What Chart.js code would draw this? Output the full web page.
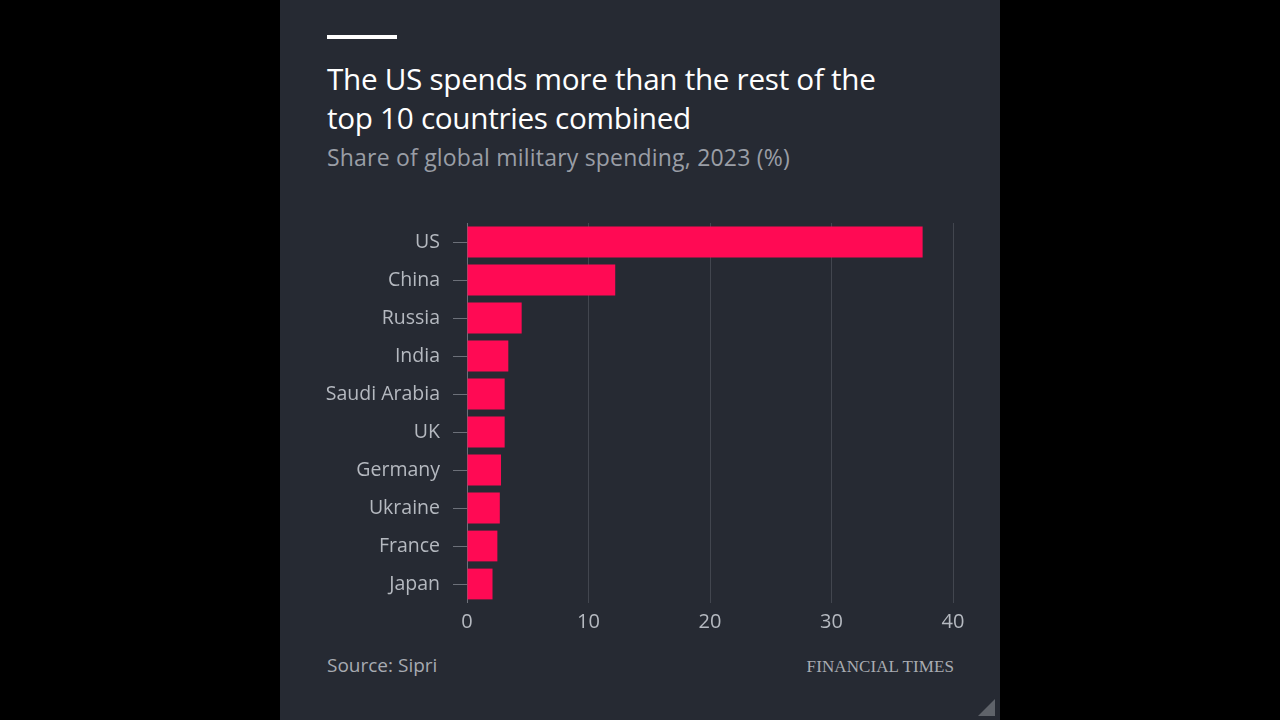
<!DOCTYPE html>
<html>
<head>
<meta charset="utf-8">
<script src="https://cdn.jsdelivr.net/npm/chart.js@4/dist/chart.umd.min.js"></script>
<style>
  html, body { margin: 0; padding: 0; background: #000; width: 1280px; height: 720px; overflow: hidden; }
  #panel { position: absolute; left: 280px; top: 0; width: 720px; height: 720px; background: #262a33; font-family: "Open Sans", "Noto Sans", sans-serif; }
  #rule { position: absolute; left: 47px; top: 35px; width: 70px; height: 4px; background: #fff; }
  #title { position: absolute; left: 47px; top: 59px; color: #fff; font-size: 29.7px; line-height: 39px; letter-spacing: -0.3px; }
  #subtitle { position: absolute; left: 47px; top: 142px; color: #9a9ea6; font-size: 23px; line-height: 30px; letter-spacing: 0.2px; }
  #source { position: absolute; left: 47px; top: 652px; color: #a7abb2; font-size: 19px; }
  #brand { position: absolute; right: 46px; top: 657px; color: #a9acb2; font-family: "Liberation Serif", "DejaVu Serif", serif; font-size: 17px; letter-spacing: 0.1px; }
  #corner { position: absolute; right: 5px; bottom: 4px; width: 0; height: 0; border-left: 17px solid transparent; border-bottom: 17px solid #5f636a; }
  #wrap { position: absolute; left: 0; top: 0; width: 720px; height: 650px; }
</style>
</head>
<body>
<div id="panel">
  <div id="rule"></div>
  <div id="title">The US spends more than the rest of the<br>top 10 countries combined</div>
  <div id="subtitle">Share of global military spending, 2023 (%)</div>
  <div id="wrap"><canvas id="myChart" width="720" height="650"></canvas></div>
  <div id="source">Source: Sipri</div>
  <div id="brand">FINANCIAL TIMES</div>
  <div id="corner"></div>
</div>
<script>
const countries = ['US', 'China', 'Russia', 'India', 'Saudi Arabia', 'UK', 'Germany', 'Ukraine', 'France', 'Japan'];
const shares = [37.5, 12.2, 4.5, 3.4, 3.1, 3.1, 2.8, 2.7, 2.5, 2.1];
const xTicks = [0, 10, 20, 30, 40];

const labelColor = '#b5b9c0';
const ctx = document.getElementById('myChart').getContext('2d');
new Chart(ctx, {
    type: 'bar',
    data: {
        labels: countries,
        datasets: [{
            data: shares,
            backgroundColor: '#ff0a54',
            borderWidth: 0,
            categoryPercentage: 1,
            barPercentage: 0.81,
        }],
    },
    options: {
        indexAxis: 'y',
        responsive: false,
        animation: false,
        layout: { padding: { top: 223, right: 47, left: 0, bottom: 0 } },
        scales: {
            x: {
                min: 0,
                max: 40,
                afterBuildTicks: axis => { axis.ticks = xTicks.map(v => ({ value: v })); },
                afterFit: axis => { axis.height = 47; },
                border: { display: false },
                grid: {
                    drawTicks: false,
                    color: c => c.tick && c.tick.value === 0 ? '#6c7079' : '#42464f',
                    lineWidth: 1,
                },
                ticks: {
                    color: labelColor,
                    padding: 7,
                    font: { family: '"Open Sans", "Noto Sans", sans-serif', size: 20 },
                },
            },
            y: {
                afterFit: axis => { axis.width = 187; },
                border: { display: false },
                grid: {
                    offset: false,
                    drawOnChartArea: false,
                    drawTicks: true,
                    tickLength: 14,
                    color: '#6c7079',
                },
                ticks: {
                    color: labelColor,
                    padding: 13,
                    font: { family: '"Open Sans", "Noto Sans", sans-serif', size: 19.5 },
                },
            },
        },
        plugins: {
            legend: { display: false },
            tooltip: { enabled: false },
        },
    },
});
</script>
</body>
</html>
